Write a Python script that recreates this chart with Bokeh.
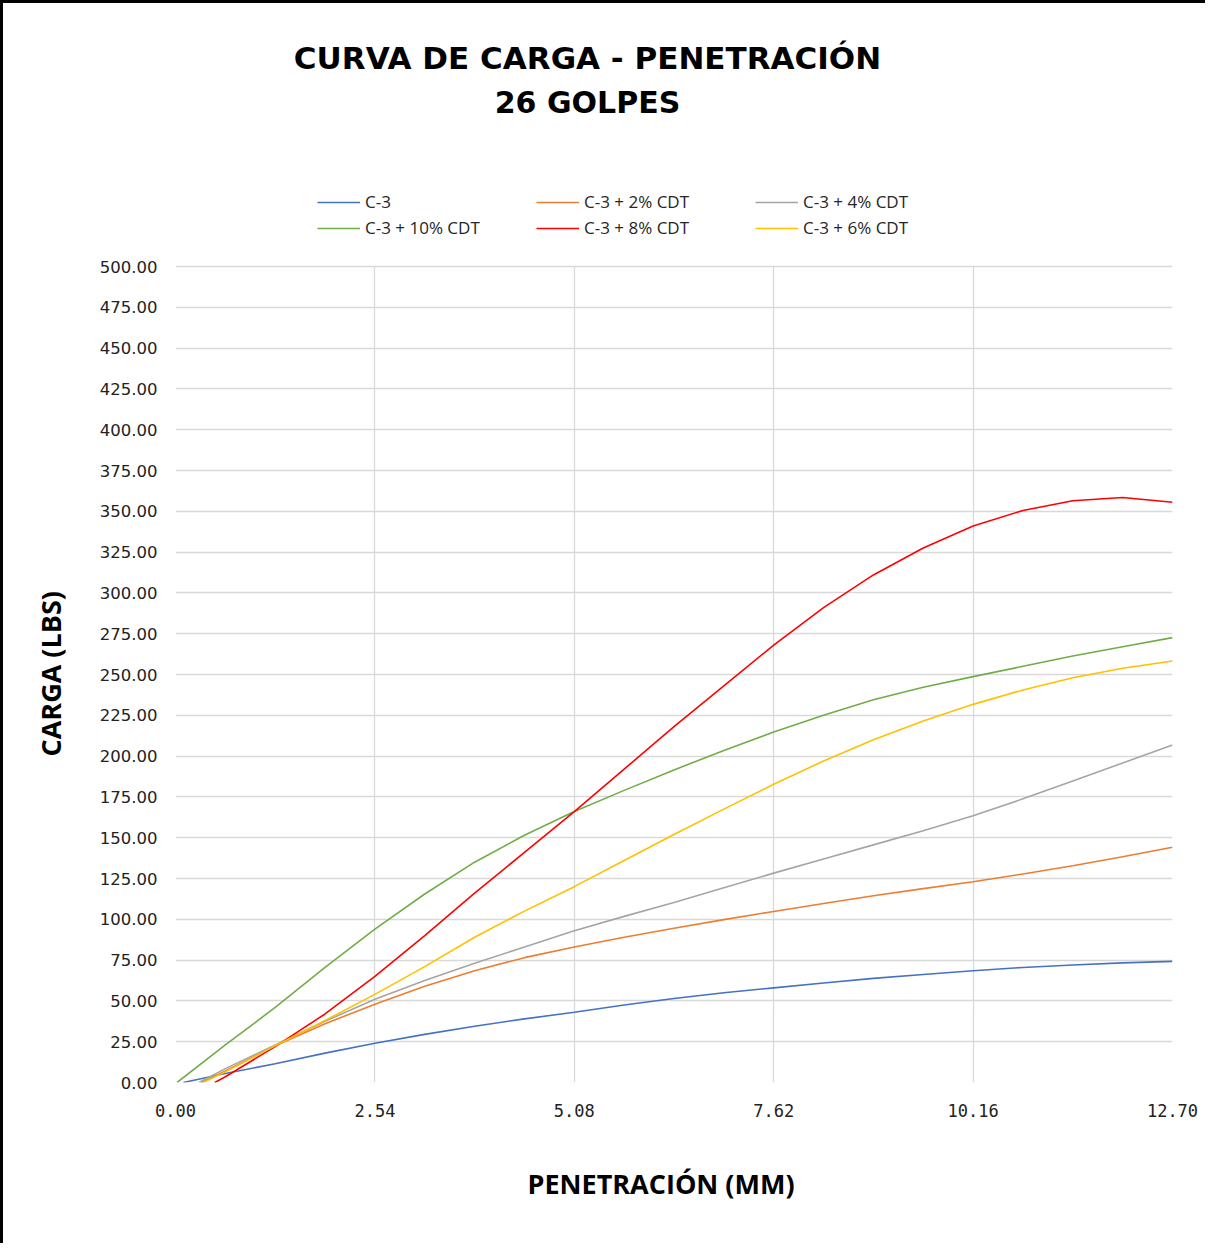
from bokeh.plotting import figure
from bokeh.models import (Range1d, FixedTicker, NumeralTickFormatter, Label,
                          Legend, LegendItem, Title)
from bokeh.embed import file_html
from bokeh.resources import INLINE

# ---------------- data ----------------
pen = [0.635, 1.27, 1.905, 2.54, 3.175, 3.81, 4.445, 5.08, 5.715, 6.35,
       6.985, 7.62, 8.255, 8.89, 9.525, 10.16, 10.795, 11.43, 12.065, 12.70]

start_c3, start_c3_2, start_c3_4 = 0.10, 0.33, 0.30
start_c3_6, start_c3_8, start_c3_10 = 0.35, 0.50, 0.02

c3 = [5.5, 11.5, 18, 24, 29.5, 34.5, 39, 43, 47.5, 51.5,
      55, 58, 61, 63.8, 66.2, 68.5, 70.5, 72, 73.3, 74.2]
c3_2 = [7, 22.5, 36, 48, 59, 68.5, 76.5, 83, 89, 94.5,
        99.8, 104.8, 109.7, 114.4, 118.8, 123, 127.8, 132.8, 138.3, 144.2]
c3_4 = [8.5, 23, 37.5, 51, 62.5, 73, 83, 93, 101.8, 110.3,
        119.3, 128.3, 137, 145.6, 154.3, 163.4, 173.8, 184.8, 195.8, 206.8]
c3_6 = [6.5, 22.5, 38, 54, 71, 89, 105, 120, 136, 152,
        167.5, 182.8, 197, 210, 221.5, 231.7, 240.5, 248, 253.8, 258.3]
c3_8 = [3.5, 22, 42, 65, 90, 116, 141, 166, 192, 218,
        243, 268, 291, 311, 327.5, 341, 350.5, 356.5, 358.5, 355.5]
c3_10 = [23, 46, 70.5, 94, 115.5, 135, 151.5, 166, 179, 191.5,
         203.5, 214.8, 225, 234.5, 242.2, 248.7, 255, 261.3, 267, 272.6]

x_ticks = [0.0, 2.54, 5.08, 7.62, 10.16, 12.70]
y_ticks = [0, 25, 50, 75, 100, 125, 150, 175, 200, 225, 250, 275, 300, 325,
           350, 375, 400, 425, 450, 475, 500]

names = ["C-3", "C-3 + 2% CDT", "C-3 + 4% CDT",
         "C-3 + 10% CDT", "C-3 + 8% CDT", "C-3 + 6% CDT"]
series = [(start_c3, c3), (start_c3_2, c3_2), (start_c3_4, c3_4),
          (start_c3_10, c3_10), (start_c3_8, c3_8), (start_c3_6, c3_6)]
colors = ["#4472C4", "#ED7D31", "#A5A5A5", "#70AD47", "#FF0000", "#FFC000"]

title_1 = "CURVA DE CARGA - PENETRACIÓN"
title_2 = "26 GOLPES"
x_label = "PENETRACIÓN (MM)"
y_label = "CARGA (LBS)"

# ---------------- layout ----------------
W, H = 1205, 1243
BORDER_L, BORDER_R, BORDER_B = 172, 36, 164
PLOT_AREA_H = 816                      # pixel height of the 0..500 area
frame_h = H - BORDER_B
y_max = y_ticks[-1]
y_top = y_max * frame_h / PLOT_AREA_H  # frame extends above the plot area

p = figure(width=W, height=H, output_backend="svg", toolbar_location=None,
           x_range=Range1d(x_ticks[0], x_ticks[-1]), y_range=Range1d(0, y_top),
           min_border_left=BORDER_L, min_border_right=BORDER_R,
           min_border_top=0, min_border_bottom=BORDER_B)
p.styles = {"border-left": "3px solid black", "border-top": "3px solid black"}
p.outline_line_color = None
p.background_fill_color = "white"
p.border_fill_color = "white"

p.xaxis.ticker = FixedTicker(ticks=x_ticks)
p.yaxis.ticker = FixedTicker(ticks=y_ticks)
p.xaxis.formatter = NumeralTickFormatter(format="0.00")
p.yaxis.formatter = NumeralTickFormatter(format="0.00")
p.yaxis.bounds = (0, y_max)
for ax in (p.xaxis, p.yaxis):
    ax.axis_line_color = None
    ax.major_tick_line_color = None
    ax.minor_tick_line_color = None
    ax.major_label_text_color = "#222222"

p.xaxis.major_label_text_font = "DejaVu Sans Mono"
p.xaxis.major_label_text_font_size = "17px"
p.xaxis.major_label_standoff = 15

p.yaxis.major_label_text_font = "DejaVu Sans"
p.yaxis.major_label_text_font_size = "16.5px"
p.yaxis.major_label_standoff = 12

# axis titles as panel titles so they can be placed like the reference
p.add_layout(Title(text=y_label, align="left", offset=326, standoff=54,
                   vertical_align="middle", text_font="Open Sans",
                   text_font_style="bold", text_font_size="27px",
                   text_color="black"), "left")
p.add_layout(Title(text=x_label, align="left", offset=352, standoff=88,
                   vertical_align="middle", text_font="Open Sans",
                   text_font_style="bold", text_font_size="27px",
                   text_color="black"), "below")

p.ygrid.grid_line_color = "#D9D9D9"
p.ygrid.grid_line_width = 1.3
try:
    p.xgrid.cross_bounds = (0, y_max)
    p.xgrid.grid_line_color = "#D9D9D9"
    p.xgrid.grid_line_width = 1.3
except Exception:
    p.xgrid.visible = False
    p.segment(x0=x_ticks, y0=[0] * len(x_ticks), x1=x_ticks,
              y1=[y_max] * len(x_ticks), line_color="#D9D9D9", line_width=1.3)

items = []
for name, (x0, ys), col in zip(names, series, colors):
    r = p.line([x0] + pen, [0] + ys, line_color=col, line_width=1.6)
    items.append(LegendItem(label=name, renderers=[r]))

legend = Legend(items=items, ncols=3, orientation="horizontal",
                location=(142, 843), glyph_width=43, glyph_height=20,
                label_height=20, label_standoff=5, label_width=168,
                spacing=3, padding=0, margin=0,
                label_text_font="Open Sans", label_text_font_size="17px",
                label_text_color="#262626",
                border_line_color=None, background_fill_alpha=0)
p.add_layout(legend, "center")

t1 = Label(x=412, y=1025, x_units="screen", y_units="screen",
           text=title_1, text_align="center", text_baseline="middle",
           text_font="DejaVu Sans", text_font_style="bold",
           text_font_size="31px", text_color="black")
t2 = Label(x=412, y=980, x_units="screen", y_units="screen",
           text=title_2, text_align="center", text_baseline="middle",
           text_font="DejaVu Sans", text_font_style="bold",
           text_font_size="30px", text_color="black")
p.add_layout(t1)
p.add_layout(t2)

open("out.html", "w").write(file_html(p, INLINE))
